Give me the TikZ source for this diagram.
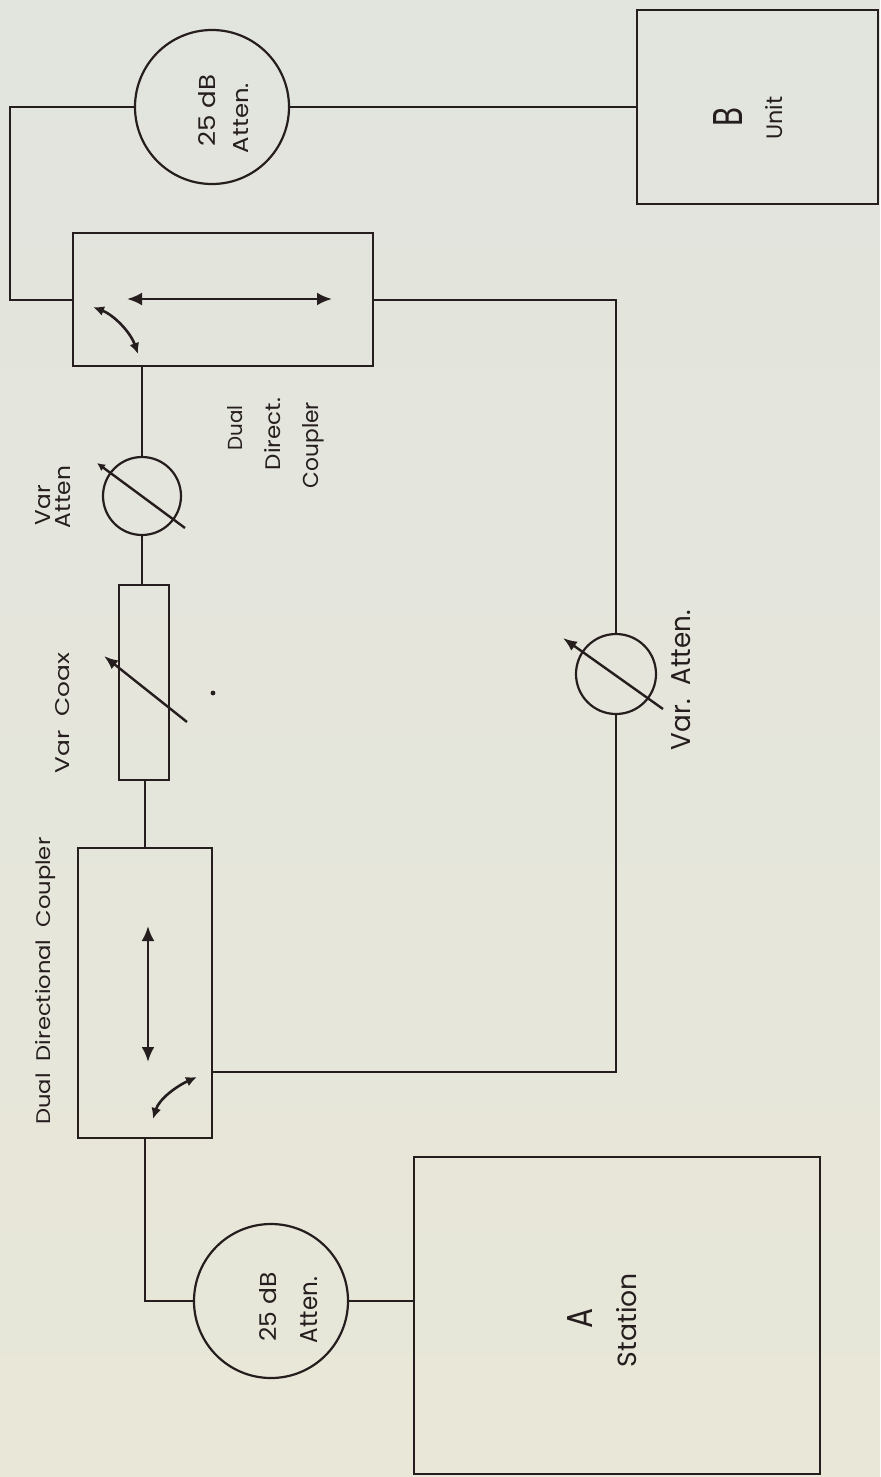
\documentclass[tikz,border=0pt]{standalone}
\usepackage{fontspec}
\setmainfont{Poppins}
\usetikzlibrary{arrows.meta}
\definecolor{ink}{RGB}{38,30,30}
\definecolor{bgtop}{RGB}{226,228,222}
\definecolor{bgbot}{RGB}{232,231,216}
\newcommand{\lab}[3]{\resizebox{\dimexpr #1pt/2\relax}{\dimexpr #2pt/2\relax}{#3}}
\begin{document}
\begin{tikzpicture}[x=0.5pt, y=-0.5pt,
  wire/.style={draw=ink, line width=1pt},
  unit/.style={draw=ink, line width=1.3pt, rectangle, inner sep=0pt},
  atten/.style={draw=ink, line width=1.1pt, circle, inner sep=0pt},
  txt/.style={rotate=90, inner sep=0pt, text=ink, anchor=base},
  dbl/.style={draw=ink, line width=1.4pt, {Latex[length=7.5pt,width=6.5pt]}-{Latex[length=7.5pt,width=6.5pt]}},
  arc2/.style={draw=ink, line width=1.3pt, {Latex[length=5.5pt,width=5pt]}-{Latex[length=5.5pt,width=5pt]}},
  knob/.style={draw=ink, line width=1.2pt, -{Latex[length=7pt,width=5.5pt]}}]
\shade[top color=bgtop, bottom color=bgbot] (0,0) rectangle (880,1477);
\useasboundingbox (0,0) rectangle (880,1477);

% B unit
\node[unit, minimum width=120.5pt, minimum height=97pt] (unitB) at (757.5,107) {};
\node[txt] (lB) at (742,117) {\lab{19}{29}{B}};
\node[txt] (lUnit) at (782,118) {\lab{43}{17}{Unit}};

% top 25 dB attenuator
\node[atten, minimum size=77pt] (att1) at (212,107) {};
\node[txt] (l1a) at (215,111) {\lab{72}{17}{25 dB}};
\node[txt] (l1b) at (248,118) {\lab{70}{15}{Atten.}};

% dual direct. coupler (top)
\node[unit, minimum width=150pt, minimum height=66.5pt] (C2) at (223,299.5) {};
\node[txt] (lC2a) at (242,428) {\lab{45}{15}{Dual}};
\node[txt] (lC2b) at (280,434) {\lab{72}{16}{Direct.}};
\node[txt] (lC2c) at (318,445) {\lab{86}{16}{Coupler}};

% var atten (upper)
\node[atten, minimum size=39pt] (att2) at (142,496) {};
\node[txt] (lV1) at (50,505) {\lab{40}{15}{Var}};
\node[txt] (lV2) at (70,497) {\lab{62}{15}{Atten}};

% var coax
\node[unit, minimum width=25pt, minimum height=97.5pt] (coax) at (144,682.5) {};
\node[txt] (lcoax) at (69,713) {\lab{120}{14}{Var\ \ Coax}};
\fill[ink] (213,693) circle (1.2pt);

% dual directional coupler (bottom)
\node[unit, minimum width=67pt, minimum height=145pt] (C1) at (145,993) {};
\node[txt] (lC1) at (50,981) {\lab{287}{15}{Dual\ \ Directional\ \ Coupler}};

% var atten (right)
\node[atten, minimum size=40pt] (att3) at (616,674) {};
\node[txt] (lV3) at (690,680) {\lab{140}{19}{Var.\ \ Atten.}};

% bottom 25 dB attenuator
\node[atten, minimum size=77pt] (att4) at (271,1301) {};
\node[txt] (l4a) at (276,1307) {\lab{69}{17}{25 dB}};
\node[txt] (l4b) at (317,1310) {\lab{66}{17}{Atten.}};

% A station
\node[unit, minimum width=203pt, minimum height=158.5pt] (stA) at (617,1315.5) {};
\node[txt] (lA) at (592,1318) {\lab{20}{25}{A}};
\node[txt] (lSt) at (636,1320) {\lab{94}{20}{Station}};

% connectors
\coordinate (k1) at (10,107);
\coordinate (k2) at (616,1072);
\draw[wire] (unitB.west) -- (att1.east);
\draw[wire] (att1.west) -- (k1) |- (C2.west);
\draw[wire] (C2.east) -| (att3.north);
\draw[wire] (att3.south) -- (k2) -- (k2 -| C1.east);
\draw[wire] (C2.south -| att2.north) -- (att2.north);
\draw[wire] (att2.south) -- (att2.south |- coax.north);
\draw[wire] (coax.south -| C1.north) -- (C1.north);
\draw[wire] (C1.south) -- (C1.south |- att4.west) -- (att4.west);
\draw[wire] (att4.east) -- (att4.east -| stA.west);

% internal symbols
\draw[dbl] (127,299) -- (332,299);
\draw[arc2] (93,307) .. controls (114.2,315.2) and (130.5,332.3) .. (138,354);
\draw[dbl] (148,926) -- (148,1062);
\draw[arc2] (197,1077) .. controls (177.5,1085.7) and (159.2,1098.6) .. (153,1119);
\draw[knob] (187,722) -- (104,656);
\draw[knob, {Latex[length=4pt,width=4pt]}-] (97,463) -- (185,528);
\draw[knob] (663,709) -- (563,638);
\end{tikzpicture}
\end{document}
